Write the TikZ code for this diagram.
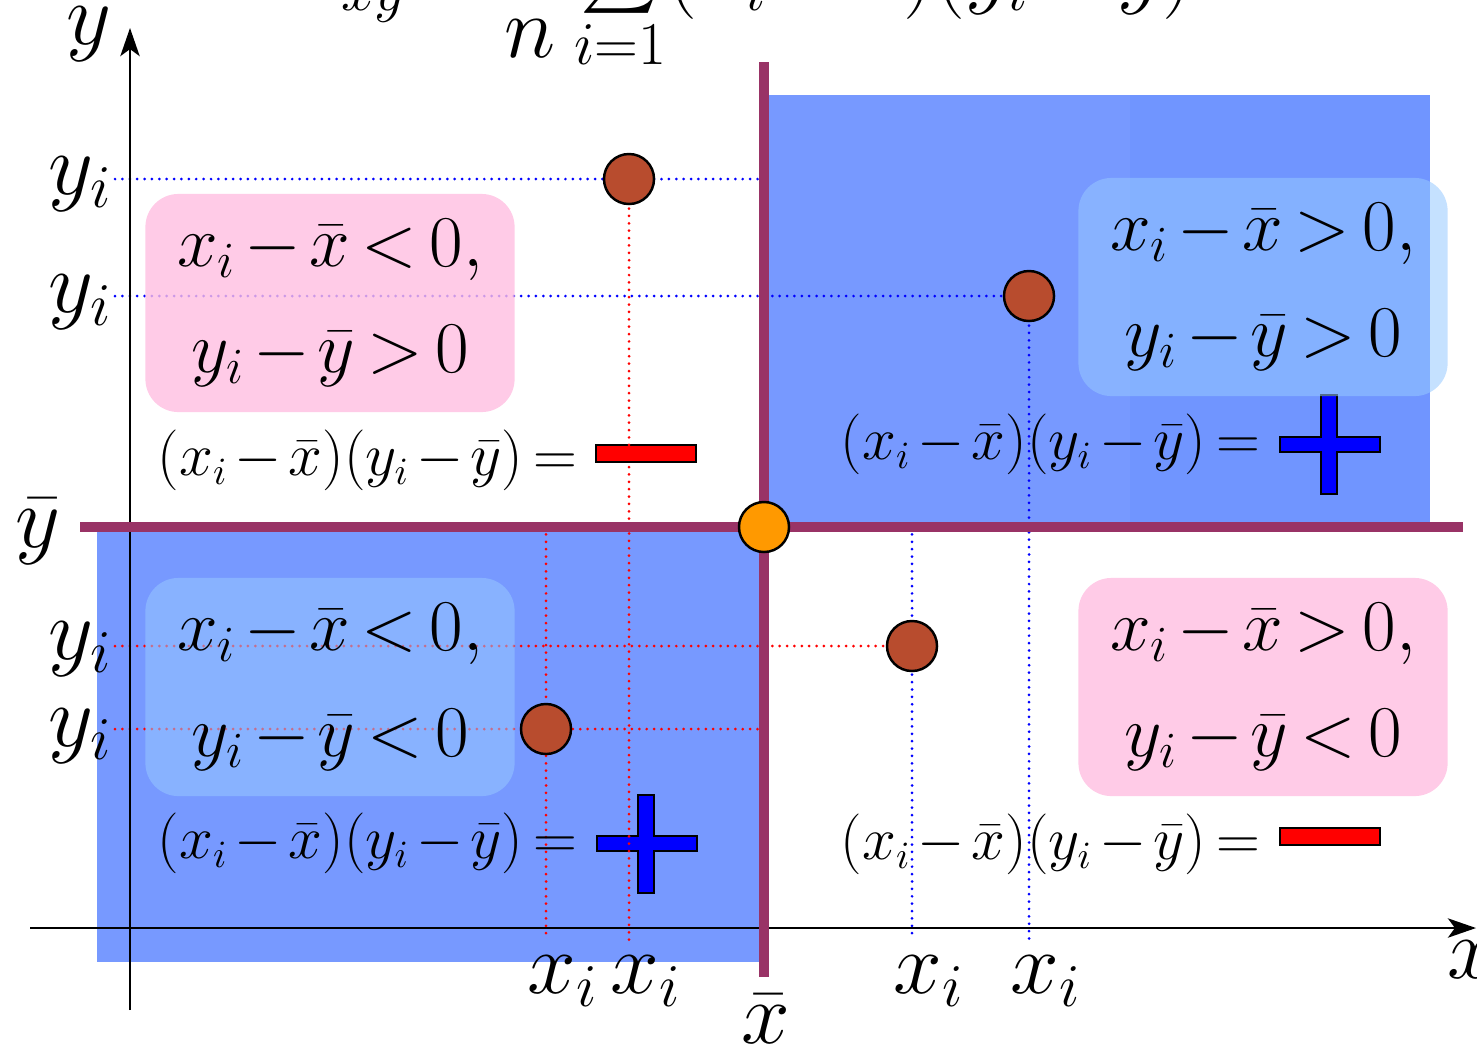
\documentclass[tikz,border=0pt]{standalone}
\usetikzlibrary{arrows.meta}

\definecolor{quadblue}{RGB}{119,153,255}
\definecolor{stripblue}{RGB}{112,149,255}
\definecolor{pinkbox}{RGB}{255,190,225}
\definecolor{lightbox}{RGB}{150,200,255}
\definecolor{meanpurple}{RGB}{153,51,102}
\definecolor{ptbrown}{RGB}{184,76,46}
\definecolor{meanorange}{RGB}{255,153,0}

\newcommand{\tightmath}{\medmuskip=2mu\thickmuskip=3mu}

\begin{document}
\begin{tikzpicture}[
    x=0.01cm, y=-0.01cm,
    quadrant/.style={fill=quadblue},
    signbox/.style={rounded corners=0.33cm, minimum width=3.69cm, minimum height=2.18cm, align=center, inner sep=0pt, font=\fontsize{21}{30}\selectfont\tightmath},
    negbox/.style={signbox, fill=pinkbox, fill opacity=0.8, text opacity=1},
    posbox/.style={signbox, fill=lightbox, fill opacity=0.55, text opacity=1},
    product/.style={anchor=base west, inner sep=0pt, font=\fontsize{16}{20}\selectfont\tightmath},
    lab/.style={inner sep=0pt, font=\fontsize{24}{28}\selectfont},
    bluedot/.style={draw=blue, line width=0.85pt, dash pattern=on 0pt off 2.1pt, line cap=round},
    reddot/.style={bluedot, draw=red},
    datapt/.style={circle, draw=black, line width=0.7pt, fill=ptbrown, minimum size=0.5cm, inner sep=0pt},
    meanpt/.style={datapt, fill=meanorange},
    meanline/.style={draw=meanpurple, line width=2.7pt},
    axis/.style={-{Stealth[length=8pt,width=5.5pt,inset=2pt]}, line width=0.6pt},
    plussign/.style={draw=black, line width=0.6pt, fill=blue},
    minussign/.style={draw=black, line width=0.6pt, fill=red}
    ]

    \useasboundingbox (0,0) rectangle (1477,1048);
    \clip (0,0) rectangle (1477,1048);

    % quadrants where the product is positive
    \fill[quadrant] (764,95) rectangle (1430,527);
    \fill[stripblue] (1130,95) rectangle (1430,527);
    \fill[quadrant] (97,527) rectangle (764,962);

    % covariance formula, cut at the top
    \node[anchor=base west, inner sep=0pt, font=\fontsize{25}{30}\selectfont\tightmath] (covtop) at (300,-3)
        {$\displaystyle s_{xy}=\frac{1}{n}\mathop{\raisebox{-0.12cm}{\scalebox{1.5}{$\displaystyle\sum$}}}\limits_{i=1}^{n}(x_i-\bar{x})(y_i-\bar{y})$};

    % signs of the product
    \draw[minussign] (596,445) rectangle (696,462);
    \draw[minussign] (1280,828) rectangle (1380,845);
    \draw[plussign] (1280,437) -- ++(41,0) -- ++(0,-42) -- ++(16,0) -- ++(0,42) -- ++(43,0) -- ++(0,15)
        -- ++(-43,0) -- ++(0,42) -- ++(-16,0) -- ++(0,-42) -- ++(-41,0) -- cycle;
    \draw[plussign] (597,836) -- ++(41,0) -- ++(0,-41) -- ++(16,0) -- ++(0,41) -- ++(43,0) -- ++(0,15)
        -- ++(-43,0) -- ++(0,42) -- ++(-16,0) -- ++(0,-42) -- ++(-41,0) -- cycle;

    % data points and guide lines
    \coordinate (pA) at (629,179);
    \coordinate (pB) at (1029,296);
    \coordinate (pC) at (912,646);
    \coordinate (pD) at (546,729);
    \coordinate (yleft) at (115,0);
    \coordinate (xfoot) at (0,940);
    \coordinate (mean) at (764,527);

    \draw[bluedot] (yleft |- pA) -- (mean |- pA);
    \draw[reddot] (pA) -- (pA |- xfoot);
    \draw[bluedot] (yleft |- pB) -- (pB);
    \draw[bluedot] (pB) -- (pB |- xfoot);
    \draw[reddot] (yleft |- pC) -- (pC);
    \draw[bluedot] (pC |- mean) -- (pC |- xfoot);
    \draw[reddot] (yleft |- pD) -- (mean |- pD);
    \draw[reddot] (pD |- mean) -- (pD |- xfoot);

    % sign boxes
    \node[negbox] (boxTL) at (330,303) {$x_i-\bar{x}<0,$\\$y_i-\bar{y}>0$};
    \node[posbox] (boxTR) at (1263,287) {$x_i-\bar{x}>0,$\\$y_i-\bar{y}>0$};
    \node[posbox] (boxBL) at (330,687) {$x_i-\bar{x}<0,$\\$y_i-\bar{y}<0$};
    \node[negbox] (boxBR) at (1263,687) {$x_i-\bar{x}>0,$\\$y_i-\bar{y}<0$};

    \node[product] (prodTL) at (157,475) {$(x_i-\bar{x})(y_i-\bar{y})=$};
    \node[product] (prodTR) at (840,459) {$(x_i-\bar{x})(y_i-\bar{y})=$};
    \node[product] (prodBL) at (157,858) {$(x_i-\bar{x})(y_i-\bar{y})=$};
    \node[product] (prodBR) at (840,859) {$(x_i-\bar{x})(y_i-\bar{y})=$};

    % axes
    \draw[axis] (130,1010) -- (130,28);
    \draw[axis] (30,928) -- (1476,928);

    % mean lines
    \draw[meanline] (764,62) -- (764,977);
    \draw[meanline] (80,527) -- (1463,527);

    \node[datapt] (ptA) at (pA) {};
    \node[datapt] (ptB) at (pB) {};
    \node[datapt] (ptC) at (pC) {};
    \node[datapt] (ptD) at (pD) {};
    \node[meanpt] (ptmean) at (mean) {};

    % axis labels
    \node[lab, anchor=base west] (ylab) at (66,44) {$y$};
    \node[lab, anchor=base west] (xlab) at (1447,978) {$x$};
    \node[lab, anchor=base] (xbarlab) at (766,1043) {$\bar{x}$};
    \node[lab, anchor=base west] (ybarlab) at (15,547) {$\bar{y}$};
    \node[lab, anchor=base west] (yiA) at (48,194) {$y_i$};
    \node[lab, anchor=base west] (yiB) at (48,312) {$y_i$};
    \node[lab, anchor=base west] (yiC) at (48,659) {$y_i$};
    \node[lab, anchor=base west] (yiD) at (48,746) {$y_i$};
    \node[lab, anchor=base west] (xiD) at (527,993) {$x_i$};
    \node[lab, anchor=base west] (xiA) at (610,993) {$x_i$};
    \node[lab, anchor=base west] (xiC) at (893,993) {$x_i$};
    \node[lab, anchor=base west] (xiB) at (1010,993) {$x_i$};
\end{tikzpicture}
\end{document}
